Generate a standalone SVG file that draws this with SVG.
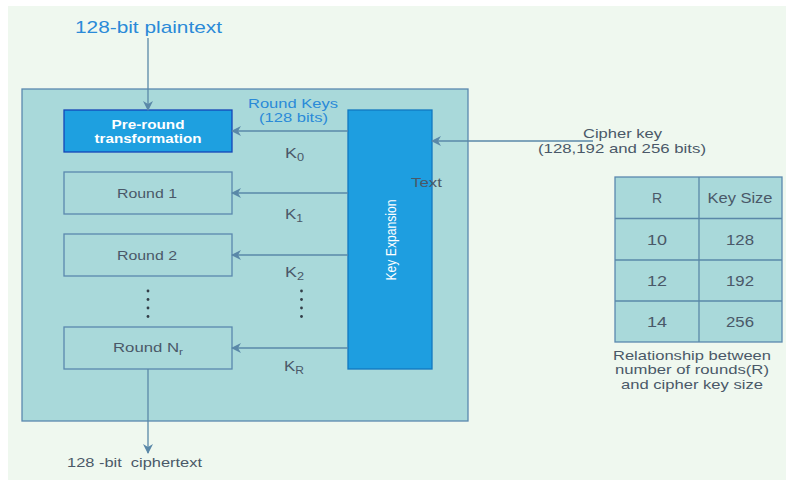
<svg xmlns="http://www.w3.org/2000/svg" width="786" height="480" viewBox="0 0 786 480">
<style>
text{font-family:"Liberation Sans",Arial,sans-serif;fill:#4a5868;}
.c{text-anchor:middle;}
.blue{fill:#2a8ad8;}
.w{fill:#ffffff;}
.box{fill:#a9d9da;stroke:#5a88ae;stroke-width:1.3;}
.ln{stroke:#5a88a8;stroke-width:1.3;fill:none;}
.dot{fill:#333e48;}
</style>
<defs>
<marker id="ah" viewBox="0 0 10 10" refX="9" refY="5" markerWidth="10" markerHeight="10" markerUnits="userSpaceOnUse" orient="auto">
<path d="M0,0 L10,5 L0,10 L3,5 z" fill="#5a88a8"/>
</marker>
</defs>
<rect x="0" y="0" width="786" height="480" fill="#ffffff"/>
<rect x="8" y="6" width="778" height="474" fill="#eff8ef"/>

<g id="outer"><rect class="box" x="22" y="89" width="446" height="332"/></g>

<g id="plaintext"><text class="blue" x="75" y="33" font-size="17" textLength="147" lengthAdjust="spacingAndGlyphs">128-bit plaintext</text></g>

<g id="preround">
<rect x="64" y="110" width="168" height="42" fill="#1ea0e0" stroke="#1446b8" stroke-width="1.3"/>
<text class="c w" x="148" y="128.5" font-size="13" font-weight="bold" textLength="73" lengthAdjust="spacingAndGlyphs">Pre-round</text>
<text class="c w" x="148" y="142.5" font-size="13" font-weight="bold" textLength="107" lengthAdjust="spacingAndGlyphs">transformation</text>
</g>
<g id="round1"><rect class="box" x="64" y="172" width="168" height="42"/><text class="c" x="147" y="198" font-size="13.5" textLength="60" lengthAdjust="spacingAndGlyphs">Round 1</text></g>
<g id="round2"><rect class="box" x="64" y="234" width="168" height="42"/><text class="c" x="147" y="260" font-size="13.5" textLength="60" lengthAdjust="spacingAndGlyphs">Round 2</text></g>
<g id="roundnr"><rect class="box" x="64" y="327" width="168" height="42"/><text class="c" x="148" y="352" font-size="13.5" textLength="70" lengthAdjust="spacingAndGlyphs">Round N<tspan font-size="9.5" dy="3">r</tspan></text></g>

<g id="keyexp">
<rect x="348" y="110" width="84" height="259" fill="#1e9ee0" stroke="#1278c0" stroke-width="1.3"/>
<text class="c w" transform="translate(396,240) rotate(-90)" font-size="14" textLength="81" lengthAdjust="spacingAndGlyphs">Key Expansion</text>
</g>
<g id="textlabel"><text x="411" y="187" font-size="13.5" textLength="31" lengthAdjust="spacingAndGlyphs">Text</text></g>

<g id="table">
<rect class="box" x="615" y="177" width="167" height="165"/>
<line class="ln" x1="699" y1="177" x2="699" y2="342"/>
<line class="ln" x1="615" y1="218.5" x2="782" y2="218.5"/>
<line class="ln" x1="615" y1="260" x2="782" y2="260"/>
<line class="ln" x1="615" y1="301" x2="782" y2="301"/>
<g font-size="14">
<text class="c" x="657" y="203">R</text><text class="c" x="740" y="203" textLength="65" lengthAdjust="spacingAndGlyphs">Key Size</text>
<text class="c" x="657" y="245" textLength="20" lengthAdjust="spacingAndGlyphs">10</text><text class="c" x="740" y="245" textLength="28" lengthAdjust="spacingAndGlyphs">128</text>
<text class="c" x="657" y="286" textLength="20" lengthAdjust="spacingAndGlyphs">12</text><text class="c" x="740" y="286" textLength="28" lengthAdjust="spacingAndGlyphs">192</text>
<text class="c" x="657" y="327" textLength="20" lengthAdjust="spacingAndGlyphs">14</text><text class="c" x="740" y="327" textLength="28" lengthAdjust="spacingAndGlyphs">256</text>
</g>
<text class="c" x="692" y="360" font-size="13" textLength="158" lengthAdjust="spacingAndGlyphs">Relationship between</text>
<text class="c" x="692" y="374" font-size="13" textLength="154" lengthAdjust="spacingAndGlyphs">number of rounds(R)</text>
<text class="c" x="692" y="388.5" font-size="13" textLength="142" lengthAdjust="spacingAndGlyphs">and cipher key size</text>
</g>

<g id="connectors">
<line class="ln" x1="148" y1="38" x2="148" y2="110" marker-end="url(#ah)"/>
<line class="ln" x1="348" y1="131" x2="232" y2="131" marker-end="url(#ah)"/>
<line class="ln" x1="348" y1="193" x2="232" y2="193" marker-end="url(#ah)"/>
<line class="ln" x1="348" y1="255" x2="232" y2="255" marker-end="url(#ah)"/>
<line class="ln" x1="348" y1="348" x2="232" y2="348" marker-end="url(#ah)"/>
<line class="ln" x1="593" y1="141" x2="432" y2="141" marker-end="url(#ah)"/>
<line class="ln" x1="148" y1="369" x2="148" y2="453" marker-end="url(#ah)"/>
<text class="c blue" x="293" y="107.5" font-size="13" textLength="90" lengthAdjust="spacingAndGlyphs">Round Keys</text>
<text class="c blue" x="293.5" y="122" font-size="13" textLength="69" lengthAdjust="spacingAndGlyphs">(128 bits)</text>
<text x="285" y="158" font-size="14" textLength="19" lengthAdjust="spacingAndGlyphs">K<tspan font-size="10" dy="3">0</tspan></text>
<text x="285" y="219" font-size="14" textLength="18" lengthAdjust="spacingAndGlyphs">K<tspan font-size="10" dy="3">1</tspan></text>
<text x="285" y="277" font-size="14" textLength="19" lengthAdjust="spacingAndGlyphs">K<tspan font-size="10" dy="3">2</tspan></text>
<text x="284" y="371" font-size="14" textLength="20" lengthAdjust="spacingAndGlyphs">K<tspan font-size="10" dy="3">R</tspan></text>
<text class="c" x="622.5" y="138" font-size="13.5" textLength="79" lengthAdjust="spacingAndGlyphs">Cipher key</text>
<text class="c" x="622" y="153" font-size="13.5" textLength="168" lengthAdjust="spacingAndGlyphs">(128,192 and 256 bits)</text>
<text x="67" y="467" font-size="13.5" xml:space="preserve" textLength="135" lengthAdjust="spacingAndGlyphs">128 -bit  ciphertext</text>
<circle class="dot" cx="148" cy="291" r="1.4"/><circle class="dot" cx="148" cy="299.5" r="1.4"/><circle class="dot" cx="148" cy="308" r="1.4"/><circle class="dot" cx="148" cy="316.5" r="1.4"/>
<circle class="dot" cx="301.5" cy="291" r="1.4"/><circle class="dot" cx="301.5" cy="299.5" r="1.4"/><circle class="dot" cx="301.5" cy="308" r="1.4"/><circle class="dot" cx="301.5" cy="316.5" r="1.4"/>
</g>
</svg>
